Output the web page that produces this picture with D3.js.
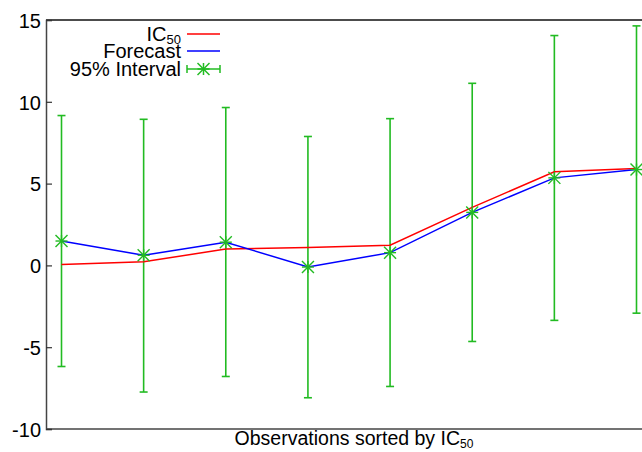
<!DOCTYPE html>
<html><head><meta charset="utf-8">
<script src="https://cdn.jsdelivr.net/npm/d3@7"></script>
<style>
html,body{margin:0;padding:0;background:#fff;}
svg{display:block;font-family:"Liberation Sans",Arial,Helvetica,sans-serif;}
</style></head>
<body><svg id="c" width="642" height="452"></svg>
<script>
const observations = [1,2,3,4,5,6,7,8];
const ic50 = [0.06, 0.22, 1.0, 1.1, 1.23, 3.55, 5.72, 5.93];
const forecast = [1.49, 0.62, 1.42, -0.1, 0.78, 3.24, 5.35, 5.86];
const upper = [9.16, 8.93, 9.65, 7.88, 8.97, 11.13, 14.05, 14.64];
const lower = [-6.18, -7.74, -6.79, -8.09, -7.40, -4.65, -3.36, -2.92];
const yTicks = [-10,-5,0,5,10,15];

(function(){
const svg = d3.select("#c");
const mLeft = 46, mTop = 20, mBottom = 429, mRight = 642;
const x = d3.scaleLinear().domain([1,8]).range([61.5,636.5]);
const y = d3.scaleLinear().domain([-10,15]).range([mBottom, mTop]);
const green = "#22bb22";

// axes frame
svg.append("line").attr("x1",mLeft).attr("x2",mRight).attr("y1",y(15)).attr("y2",y(15)).attr("stroke","#111").attr("stroke-width",1.5);
svg.append("line").attr("x1",mLeft).attr("x2",mRight).attr("y1",mBottom).attr("y2",mBottom).attr("stroke","#444").attr("stroke-width",1.5);

const yAxis = d3.axisLeft(y).tickValues(yTicks).tickSize(-6).tickPadding(5).tickFormat(d => String(d));
const ga = svg.append("g").attr("transform",`translate(${mLeft},0)`).call(yAxis);
ga.select(".domain").attr("stroke","#444").attr("stroke-width",1.5);
ga.selectAll(".tick line").attr("stroke","#333").attr("stroke-width",1.2);
ga.selectAll(".tick text").attr("font-size",20).attr("fill","#000").attr("font-family","Liberation Sans, Arial, sans-serif").attr("dy","0.36em");

// x label
const xl = svg.append("text").attr("x",354).attr("y",445).attr("text-anchor","middle").attr("font-size",19.5).attr("fill","#000");
xl.append("tspan").text("Observations sorted by IC");
xl.append("tspan").attr("font-size",12).attr("dy",3).text("50");

// error bars
const eb = svg.append("g").attr("stroke",green).attr("stroke-width",1.6);
observations.forEach((o,i)=>{
  eb.append("line").attr("x1",x(o)).attr("x2",x(o)).attr("y1",y(upper[i])).attr("y2",y(lower[i]));
  eb.append("line").attr("x1",x(o)-4).attr("x2",x(o)+4).attr("y1",y(upper[i])).attr("y2",y(upper[i]));
  eb.append("line").attr("x1",x(o)-4).attr("x2",x(o)+4).attr("y1",y(lower[i])).attr("y2",y(lower[i]));
});

const line = d3.line().x((d,i)=>x(observations[i])).y(d=>y(d));
svg.append("path").datum(ic50).attr("d",line).attr("fill","none").attr("stroke","#ff0000").attr("stroke-width",1.5);
svg.append("path").datum(forecast).attr("d",line).attr("fill","none").attr("stroke","#0000ff").attr("stroke-width",1.5);

function star(g, cx, cy, r){
  g.append("line").attr("x1",cx-r).attr("x2",cx+r).attr("y1",cy).attr("y2",cy);
  g.append("line").attr("x1",cx).attr("x2",cx).attr("y1",cy-r).attr("y2",cy+r);
  g.append("line").attr("x1",cx-r).attr("x2",cx+r).attr("y1",cy-r).attr("y2",cy+r);
  g.append("line").attr("x1",cx-r).attr("x2",cx+r).attr("y1",cy+r).attr("y2",cy-r);
}
const pts = svg.append("g").attr("stroke",green).attr("stroke-width",1.4);
observations.forEach((o,i)=>star(pts, x(o), y(forecast[i]), 6));

// legend
const lg = svg.append("g").attr("font-size",20).attr("fill","#000");
const t1 = lg.append("text").attr("x",181).attr("y",41).attr("text-anchor","end");
t1.append("tspan").text("IC");
t1.append("tspan").attr("font-size",13).attr("dy",3).text("50");
lg.append("text").attr("x",181).attr("y",58).attr("text-anchor","end").text("Forecast");
lg.append("text").attr("x",181).attr("y",76).attr("text-anchor","end").text("95% Interval");
lg.append("line").attr("x1",187).attr("x2",220).attr("y1",34).attr("y2",34).attr("stroke","#ff0000").attr("stroke-width",1.5);
lg.append("line").attr("x1",187).attr("x2",220).attr("y1",51).attr("y2",51).attr("stroke","#0000ff").attr("stroke-width",1.5);
const lgE = lg.append("g").attr("stroke",green).attr("stroke-width",1.5);
lgE.append("line").attr("x1",187).attr("x2",220).attr("y1",69).attr("y2",69);
lgE.append("line").attr("x1",187).attr("x2",187).attr("y1",65).attr("y2",73);
lgE.append("line").attr("x1",220).attr("x2",220).attr("y1",65).attr("y2",73);
star(lgE, 203.5, 69, 6);
})();
</script></body></html>
